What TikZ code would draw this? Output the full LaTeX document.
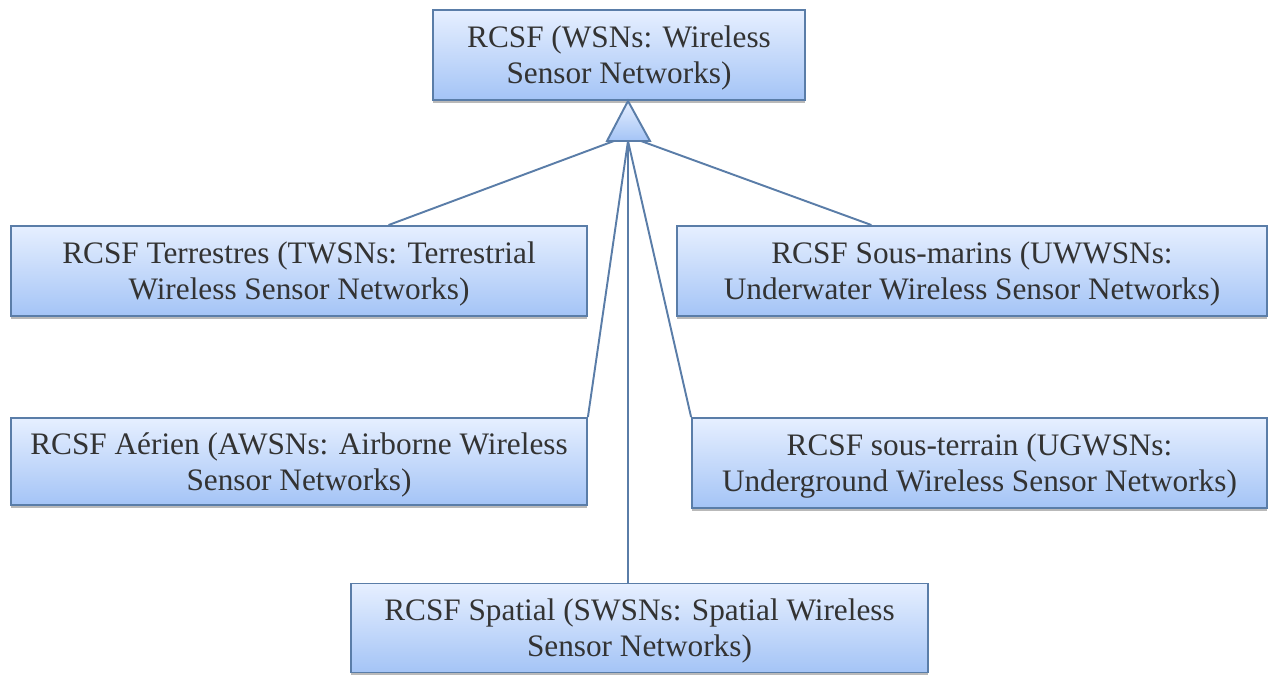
\documentclass[tikz,border=0pt]{standalone}
\usepackage{fontspec}
\setmainfont{Liberation Serif}
\usetikzlibrary{calc,shadows}
\definecolor{boxedge}{HTML}{5A7DA8}
\definecolor{boxtop}{HTML}{E6EFFF}
\definecolor{boxbot}{HTML}{A4C4F6}
\definecolor{txt}{HTML}{333333}
\tikzset{
    netbox/.style={draw=boxedge, line width=1.1pt, top color=boxtop, bottom color=boxbot,
        text=txt, align=center, font=\fontsize{17.8}{20.5}\selectfont, inner sep=0pt,
        minimum height=1.8cm, text depth=0pt,
        drop shadow={shadow xshift=0pt, shadow yshift=-1.6pt, fill=gray!55, opacity=1}}, % boites
    link/.style={draw=boxedge, line width=1.1pt} % liens
}
\begin{document}
\begin{tikzpicture}[x=0.02cm, y=-0.02cm]
    \useasboundingbox (0,0) rectangle (1269,675);

    % liens vers les sous-classes
    \coordinate (base) at (628,141);
    \coordinate (baseL) at (614,141);
    \coordinate (baseR) at (641,141);

    \node[netbox, minimum width=7.44cm] (root) at (619,55) {RCSF (WSNs: Wireless\\Sensor Networks)};
    \node[netbox, minimum width=11.52cm] (terr) at (299,271) {RCSF Terrestres (TWSNs: Terrestrial\\Wireless Sensor Networks)};
    \node[netbox, minimum width=11.8cm] (marin) at (972,271) {RCSF Sous-marins (UWWSNs:\\Underwater Wireless Sensor Networks)};
    \node[netbox, minimum width=11.52cm, minimum height=1.74cm] (aer) at (299,461.5) {RCSF Aérien (AWSNs: Airborne Wireless\\Sensor Networks)};
    \node[netbox, minimum width=11.5cm] (sterr) at (979.5,463) {RCSF sous-terrain (UGWSNs:\\Underground Wireless Sensor Networks)};
    \node[netbox, minimum width=11.54cm, minimum height=1.78cm] (spat) at (639.5,628) {RCSF Spatial (SWSNs: Spatial Wireless\\Sensor Networks)};

    \draw[link] (baseL) -- ($(terr.north west)!0.655!(terr.north east)$);
    \draw[link] (baseR) -- ($(marin.north west)!0.33!(marin.north east)$);
    \draw[link] (base) -- (aer.north east);
    \draw[link] (base) -- (sterr.north west);
    \draw[link] (base) -- (base |- spat.north);

    % triangle d'heritage
    \coordinate (apex) at (628,101);
    \filldraw[link, top color=boxtop, bottom color=boxbot] (apex) -- (650,141) -- (607,141) -- cycle;
\end{tikzpicture}
\end{document}
